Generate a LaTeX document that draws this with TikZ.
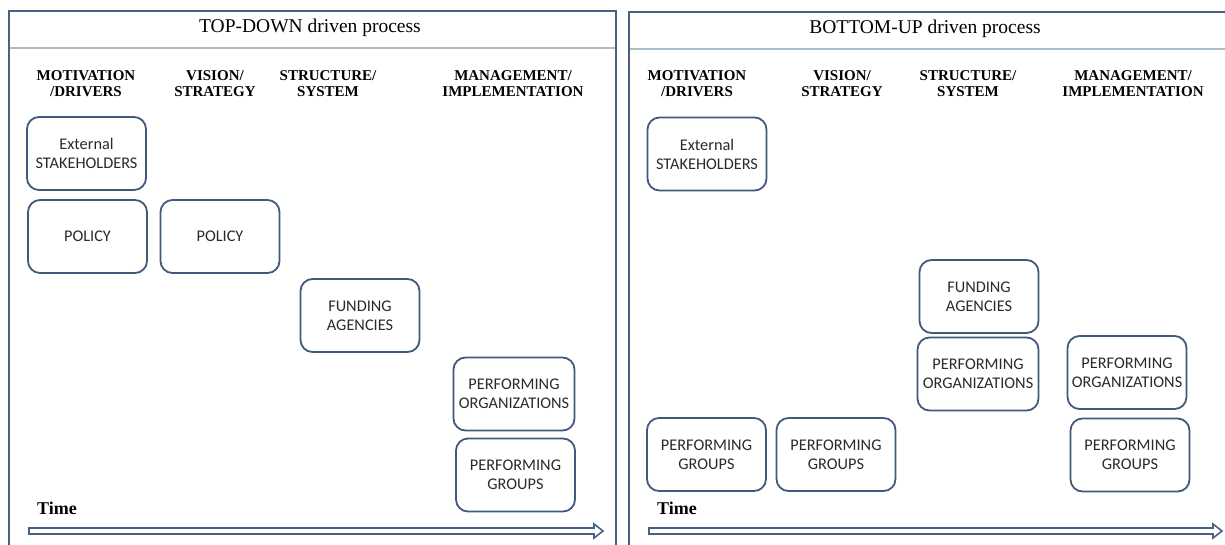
\documentclass[tikz,border=0pt]{standalone}
\usepackage{fontspec}
\setmainfont{Liberation Serif}
\newfontfamily\boxfont{Carlito}
\usetikzlibrary{calc}
\definecolor{framecol}{HTML}{4A617F}
\definecolor{divcol}{HTML}{A9BDCB}
\definecolor{boxcol}{HTML}{41597B}
\definecolor{txtcol}{HTML}{2A2A2A}
\tikzset{
  frame/.style={draw=framecol, line width=2.2pt},
  divider/.style={draw=divcol, line width=1.2pt},
  title/.style={font=\fontsize{19.5}{21}\selectfont, anchor=center},
  header/.style={font=\fontsize{15}{15.5}\bfseries\selectfont, align=center, anchor=center, inner sep=0pt},
  stepbox/.style={draw=boxcol, line width=1.8pt, rounded corners=12pt, minimum width=119pt, minimum height=73pt, align=center, inner sep=0pt, text=txtcol, font=\boxfont\fontsize{16.3}{19}\selectfont},
  timelabel/.style={font=\fontsize{18}{20}\bfseries\selectfont, anchor=base west, inner sep=0pt},
  timearrow/.style={draw=framecol, fill=white, line width=1.6pt, line join=miter}
}
\begin{document}
\begin{tikzpicture}[x=1pt,y=-1pt]
\useasboundingbox (0,0) rectangle (1225,544);
\clip (0,0) rectangle (1225,544);
% left panel
\draw[frame] (9,11) rectangle (616,570);
\draw[divider] (10,48) -- (615,48);
\node[title] (tl) at (310,28) {TOP-DOWN driven process};
\node[header] (lh1) at (86,83.5) {MOTIVATION\\/DRIVERS};
\node[header] (lh2) at (215,83.5) {VISION/\\STRATEGY};
\node[header] (lh3) at (328,83.5) {STRUCTURE/\\SYSTEM};
\node[header] (lh4) at (513,83.5) {MANAGEMENT/\\IMPLEMENTATION};
\node[stepbox] (l1) at (86.5,153.5) {External\\STAKEHOLDERS};
\node[stepbox] (l2) at (87.5,236.5) {POLICY};
\node[stepbox] (l3) at (220,236.5) {POLICY};
\node[stepbox] (l4) at (360,315.5) {FUNDING\\AGENCIES};
\node[stepbox, minimum width=121pt] (l5) at (514,394) {PERFORMING\\ORGANIZATIONS};
\node[stepbox] (l6) at (515.5,475) {PERFORMING\\GROUPS};
\node[timelabel] (lt) at (37,514) {Time};
\coordinate (la) at (29,531);
\coordinate (lb) at (603,531);
\draw[timearrow] ($(la)+(0,-3)$) -- ($(lb)+(-9,-3)$) -- ($(lb)+(-9,-7)$) -- (lb) -- ($(lb)+(-9,7)$) -- ($(lb)+(-9,3)$) -- ($(la)+(0,3)$) -- cycle;
% right panel
\draw[frame] (629,12) rectangle (1240,570);
\draw[divider] (630,49) -- (1225,49);
\node[title] (tr) at (925,29) {BOTTOM-UP driven process};
\node[header] (rh1) at (697,83.5) {MOTIVATION\\/DRIVERS};
\node[header] (rh2) at (842,83.5) {VISION/\\STRATEGY};
\node[header] (rh3) at (968,83.5) {STRUCTURE/\\SYSTEM};
\node[header] (rh4) at (1133,83.5) {MANAGEMENT/\\IMPLEMENTATION};
\node[stepbox] (r1) at (707,154) {External\\STAKEHOLDERS};
\node[stepbox] (r2) at (979,296.5) {FUNDING\\AGENCIES};
\node[stepbox, minimum width=121pt] (r3) at (978,374) {PERFORMING\\ORGANIZATIONS};
\node[stepbox] (r4) at (1127,372.5) {PERFORMING\\ORGANIZATIONS};
\node[stepbox] (r5) at (706.5,454.5) {PERFORMING\\GROUPS};
\node[stepbox] (r6) at (836,454.5) {PERFORMING\\GROUPS};
\node[stepbox] (r7) at (1130,455) {PERFORMING\\GROUPS};
\node[timelabel] (rt) at (657,514) {Time};
\coordinate (ra) at (649,531);
\coordinate (rb) at (1222,531);
\draw[timearrow] ($(ra)+(0,-3)$) -- ($(rb)+(-9,-3)$) -- ($(rb)+(-9,-7)$) -- (rb) -- ($(rb)+(-9,7)$) -- ($(rb)+(-9,3)$) -- ($(ra)+(0,3)$) -- cycle;
\end{tikzpicture}
\end{document}
